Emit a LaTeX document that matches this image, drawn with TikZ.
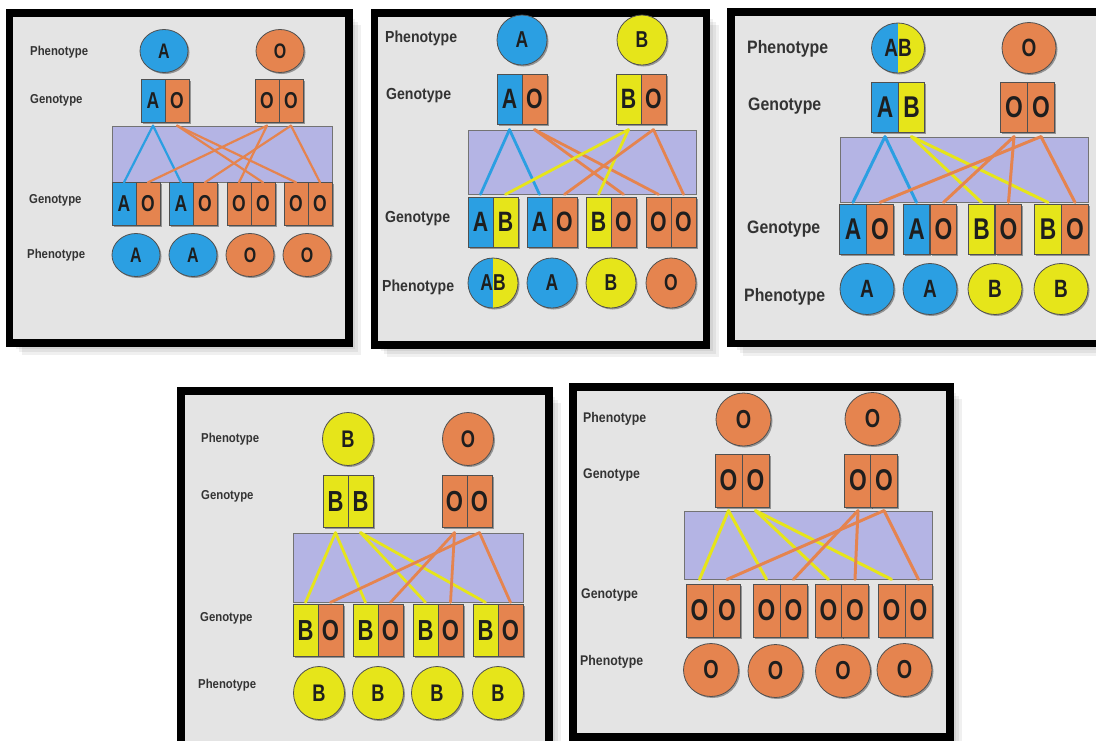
\documentclass[tikz,border=0pt]{standalone}
\usepackage{fontspec}
\newfontfamily\lf{Liberation Sans}[FakeStretch=0.88]
\newfontfamily\lt{Liberation Sans}[FakeStretch=0.76]
\usetikzlibrary{shapes.geometric,shadows}
\definecolor{cblue}{HTML}{2B9FE2}
\definecolor{corange}{HTML}{E5844F}
\definecolor{cyellow}{HTML}{E6E51A}
\definecolor{cband}{HTML}{B4B4E4}
\definecolor{cbg}{HTML}{E4E4E4}
\definecolor{gline}{HTML}{505050}
\definecolor{txt}{HTML}{1E1E1E}
\definecolor{ltxt}{HTML}{333333}
\tikzset{
 sh/.style={drop shadow={shadow xshift=1.5pt, shadow yshift=-1.5pt, opacity=0.35, fill=black}},
 al/.style={rectangle, draw=gline, line width=0.8pt, minimum width=\aw, minimum height=\ah, inner sep=0pt, text=txt, font=\lt\bfseries\fontsize{\afs}{\afs}\selectfont, sh},
 ph/.style={ellipse, draw=gline, line width=0.8pt, minimum width=\cw, minimum height=\ch, inner sep=0pt, text=txt, font=\lt\bfseries\fontsize{\cfs}{\cfs}\selectfont, sh},
 split/.style={path picture={\fill[cblue] (path picture bounding box.south west) rectangle (path picture bounding box.north); \fill[cyellow] (path picture bounding box.south) rectangle (path picture bounding box.north east);}},
 lbl/.style={anchor=west, inner sep=0pt, text=ltxt, font=\lf\bfseries\fontsize{\lfs}{\lfs}\selectfont},
 band/.style={rectangle, draw=gline!80, line width=0.8pt, fill=cband, inner sep=0pt},
 ln/.style={line width=\lw, line cap=round},
 frame/.style={draw=black, fill=cbg, line width=7.5pt},
}
\newcommand\panelframe[4]{%
 \foreach \s in {3,6,9,12}{\fill[black,opacity=0.06] ({#1+\s},{#2+\s}) rectangle ({#3+\s},{#4+\s});}
 \draw[frame] (#1,#2) rectangle (#3,#4);}
\begin{document}
\begin{tikzpicture}[x=1pt,y=-1pt]
\useasboundingbox (0,0) rectangle (1096,740);
\fill[white] (0,0) rectangle (1096,740);
\clip (0,0) rectangle (1096,740);
% ================= Panel A =================
\def\aw{24pt}\def\ah{43pt}\def\afs{23}\def\cw{48pt}\def\ch{43pt}\def\cfs{21}\def\lfs{12.9}\def\lw{2.2pt}
\panelframe{9.5}{13}{349}{343}
\node[lbl] (Alp1) at (30,52) {Phenotype};
\node[lbl] (Alg1) at (30,100) {Genotype};
\node[lbl] (Alg2) at (29,200) {Genotype};
\node[lbl] (Alp2) at (27,255) {Phenotype};
\node[ph, fill=cblue] (Atp1) at (164,51) {A};
\node[ph, fill=corange] (Atp2) at (280,51) {O};
\node[al, fill=cblue] (Ap11) at (153,100.5) {A};
\node[al, fill=corange] (Ap12) at (177,100.5) {O};
\node[al, fill=corange] (Ap21) at (267,100.5) {O};
\node[al, fill=corange] (Ap22) at (291,100.5) {O};
\node[band, minimum width=220pt, minimum height=56pt] (Aband) at (222,154) {};
\node[al, fill=cblue] (Ac11) at (124,204) {A};
\node[al, fill=corange] (Ac12) at (148,204) {O};
\node[al, fill=cblue] (Ac21) at (181,204) {A};
\node[al, fill=corange] (Ac22) at (205,204) {O};
\node[al, fill=corange] (Ac31) at (239,204) {O};
\node[al, fill=corange] (Ac32) at (263,204) {O};
\node[al, fill=corange] (Ac41) at (296,204) {O};
\node[al, fill=corange] (Ac42) at (320,204) {O};
\node[ph, fill=cblue] (Acp1) at (136,255) {A};
\node[ph, fill=cblue] (Acp2) at (193,255) {A};
\node[ph, fill=corange] (Acp3) at (250,255) {O};
\node[ph, fill=corange] (Acp4) at (307,255) {O};
\draw[ln, cblue] (Ap11 |- Aband.north) -- (Ac11 |- Aband.south);
\draw[ln, cblue] (Ap11 |- Aband.north) -- (Ac21 |- Aband.south);
\draw[ln, corange] (Ap12 |- Aband.north) -- (Ac32 |- Aband.south);
\draw[ln, corange] (Ap12 |- Aband.north) -- (Ac41 |- Aband.south);
\draw[ln, corange] (Ap21 |- Aband.north) -- (Ac12 |- Aband.south);
\draw[ln, corange] (Ap21 |- Aband.north) -- (Ac31 |- Aband.south);
\draw[ln, corange] (Ap22 |- Aband.north) -- (Ac22 |- Aband.south);
\draw[ln, corange] (Ap22 |- Aband.north) -- (Ac42 |- Aband.south);
% ================= Panel B =================
\def\aw{25pt}\def\ah{50pt}\def\afs{28}\def\cw{50pt}\def\ch{50pt}\def\cfs{23}\def\lfs{16}\def\lw{2.8pt}
\panelframe{374.5}{13}{706.5}{345}
\node[lbl] (Blp1) at (385,38) {Phenotype};
\node[lbl] (Blg1) at (386,96) {Genotype};
\node[lbl] (Blg2) at (385,219) {Genotype};
\node[lbl] (Blp2) at (382,287) {Phenotype};
\node[ph, fill=cblue] (Btp1) at (522,40) {A};
\node[ph, fill=cyellow] (Btp2) at (642,40) {B};
\node[al, fill=cblue] (Bp11) at (509.5,99) {A};
\node[al, fill=corange] (Bp12) at (534.5,99) {O};
\node[al, fill=cyellow] (Bp21) at (628.5,99) {B};
\node[al, fill=corange] (Bp22) at (653.5,99) {O};
\node[band, minimum width=228pt, minimum height=64pt] (Bband) at (582,162) {};
\node[al, fill=cblue] (Bc11) at (480.5,222) {A};
\node[al, fill=cyellow] (Bc12) at (505.5,222) {B};
\node[al, fill=cblue] (Bc21) at (539.5,222) {A};
\node[al, fill=corange] (Bc22) at (564.5,222) {O};
\node[al, fill=cyellow] (Bc31) at (598.5,222) {B};
\node[al, fill=corange] (Bc32) at (623.5,222) {O};
\node[al, fill=corange] (Bc41) at (658.5,222) {O};
\node[al, fill=corange] (Bc42) at (683.5,222) {O};
\node[ph, split] (Bcp1) at (493,283) {AB};
\node[ph, fill=cblue] (Bcp2) at (552,283) {A};
\node[ph, fill=cyellow] (Bcp3) at (611,283) {B};
\node[ph, fill=corange] (Bcp4) at (671,283) {O};
\draw[ln, cblue] (Bp11 |- Bband.north) -- (Bc11 |- Bband.south);
\draw[ln, cblue] (Bp11 |- Bband.north) -- (Bc21 |- Bband.south);
\draw[ln, corange] (Bp12 |- Bband.north) -- (Bc32 |- Bband.south);
\draw[ln, corange] (Bp12 |- Bband.north) -- (Bc41 |- Bband.south);
\draw[ln, cyellow] (Bp21 |- Bband.north) -- (Bc12 |- Bband.south);
\draw[ln, cyellow] (Bp21 |- Bband.north) -- (Bc31 |- Bband.south);
\draw[ln, corange] (Bp22 |- Bband.north) -- (Bc22 |- Bband.south);
\draw[ln, corange] (Bp22 |- Bband.north) -- (Bc42 |- Bband.south);
% ================= Panel C =================
\def\aw{26.5pt}\def\ah{50pt}\def\afs{30}\def\cw{54pt}\def\ch{51pt}\def\cfs{25}\def\lfs{18}\def\lw{3pt}
\panelframe{731}{12}{1110}{343.5}
\node[lbl] (Clp1) at (747,49) {Phenotype};
\node[lbl] (Clg1) at (748,106) {Genotype};
\node[lbl] (Clg2) at (747,229) {Genotype};
\node[lbl] (Clp2) at (744,297) {Phenotype};
\node[ph, split, minimum width=53pt, minimum height=50pt] (Ctp1) at (898,48) {AB};
\node[ph, fill=corange] (Ctp2) at (1029,48) {O};
\node[al, fill=cblue] (Cp11) at (885,107) {A};
\node[al, fill=cyellow] (Cp12) at (911.5,107) {B};
\node[al, fill=corange] (Cp21) at (1014,107) {O};
\node[al, fill=corange] (Cp22) at (1041,107) {O};
\node[band, minimum width=248pt, minimum height=65pt] (Cband) at (964,169.5) {};
\node[al, fill=cblue] (Cc11) at (853,229) {A};
\node[al, fill=corange] (Cc12) at (880,229) {O};
\node[al, fill=cblue] (Cc21) at (916.5,229) {A};
\node[al, fill=corange] (Cc22) at (943.5,229) {O};
\node[al, fill=cyellow] (Cc31) at (981.5,229) {B};
\node[al, fill=corange] (Cc32) at (1008.5,229) {O};
\node[al, fill=cyellow] (Cc41) at (1048,229) {B};
\node[al, fill=corange] (Cc42) at (1075,229) {O};
\node[ph, fill=cblue] (Ccp1) at (867,289) {A};
\node[ph, fill=cblue] (Ccp2) at (930,289) {A};
\node[ph, fill=cyellow] (Ccp3) at (995,289) {B};
\node[ph, fill=cyellow] (Ccp4) at (1061,289) {B};
\draw[ln, cblue] (Cp11 |- Cband.north) -- (Cc11 |- Cband.south);
\draw[ln, cblue] (Cp11 |- Cband.north) -- (Cc21 |- Cband.south);
\draw[ln, cyellow] (Cp12 |- Cband.north) -- (Cc31 |- Cband.south);
\draw[ln, cyellow] (Cp12 |- Cband.north) -- (Cc41 |- Cband.south);
\draw[ln, corange] (Cp21 |- Cband.north) -- (Cc22 |- Cband.south);
\draw[ln, corange] (Cp21 |- Cband.north) -- (Cc32 |- Cband.south);
\draw[ln, corange] (Cp22 |- Cband.north) -- (Cc12 |- Cband.south);
\draw[ln, corange] (Cp22 |- Cband.north) -- (Cc42 |- Cband.south);
% ================= Panel D =================
\def\aw{25pt}\def\ah{52pt}\def\afs{29}\def\cw{51pt}\def\ch{53pt}\def\cfs{24}\def\lfs{12.9}\def\lw{2.8pt}
\panelframe{181}{391}{549}{755}
\node[lbl] (Dlp1) at (201,439) {Phenotype};
\node[lbl] (Dlg1) at (201,496) {Genotype};
\node[lbl] (Dlg2) at (200,618) {Genotype};
\node[lbl] (Dlp2) at (198,685) {Phenotype};
\node[ph, fill=cyellow] (Dtp1) at (348,439) {B};
\node[ph, fill=corange] (Dtp2) at (468,439) {O};
\node[al, fill=cyellow] (Dp11) at (335.5,501.5) {B};
\node[al, fill=cyellow] (Dp12) at (360.5,501.5) {B};
\node[al, fill=corange] (Dp21) at (454.5,501.5) {O};
\node[al, fill=corange] (Dp22) at (479.5,501.5) {O};
\node[band, minimum width=230pt, minimum height=69pt] (Dband) at (408,567.5) {};
\node[al, fill=cyellow] (Dc11) at (305.5,630.5) {B};
\node[al, fill=corange] (Dc12) at (330.5,630.5) {O};
\node[al, fill=cyellow] (Dc21) at (365.5,630.5) {B};
\node[al, fill=corange] (Dc22) at (390.5,630.5) {O};
\node[al, fill=cyellow] (Dc31) at (425.5,630.5) {B};
\node[al, fill=corange] (Dc32) at (450.5,630.5) {O};
\node[al, fill=cyellow] (Dc41) at (485.5,630.5) {B};
\node[al, fill=corange] (Dc42) at (510.5,630.5) {O};
\node[ph, fill=cyellow] (Dcp1) at (319,693) {B};
\node[ph, fill=cyellow] (Dcp2) at (378,693) {B};
\node[ph, fill=cyellow] (Dcp3) at (437,693) {B};
\node[ph, fill=cyellow] (Dcp4) at (498,693) {B};
\draw[ln, cyellow] (Dp11 |- Dband.north) -- (Dc11 |- Dband.south);
\draw[ln, cyellow] (Dp11 |- Dband.north) -- (Dc21 |- Dband.south);
\draw[ln, cyellow] (Dp12 |- Dband.north) -- (Dc31 |- Dband.south);
\draw[ln, cyellow] (Dp12 |- Dband.north) -- (Dc41 |- Dband.south);
\draw[ln, corange] (Dp21 |- Dband.north) -- (Dc22 |- Dband.south);
\draw[ln, corange] (Dp21 |- Dband.north) -- (Dc32 |- Dband.south);
\draw[ln, corange] (Dp22 |- Dband.north) -- (Dc12 |- Dband.south);
\draw[ln, corange] (Dp22 |- Dband.north) -- (Dc42 |- Dband.south);
% ================= Panel E =================
\def\aw{27pt}\def\ah{53pt}\def\afs{30}\def\cw{55pt}\def\ch{53pt}\def\cfs{26}\def\lfs{14}\def\lw{3pt}
\panelframe{573}{387}{950}{737}
\node[lbl] (Elp1) at (583,419) {Phenotype};
\node[lbl] (Elg1) at (583,475) {Genotype};
\node[lbl] (Elg2) at (581,595) {Genotype};
\node[lbl] (Elp2) at (580,662) {Phenotype};
\node[ph, fill=corange] (Etp1) at (743.5,419.5) {O};
\node[ph, fill=corange] (Etp2) at (872.5,419) {O};
\node[al, fill=corange] (Ep11) at (728.5,480.5) {O};
\node[al, fill=corange] (Ep12) at (755.5,480.5) {O};
\node[al, fill=corange] (Ep21) at (858,480.5) {O};
\node[al, fill=corange] (Ep22) at (884,480.5) {O};
\node[band, minimum width=248pt, minimum height=68pt] (Eband) at (808,545) {};
\node[al, fill=corange] (Ec11) at (699.5,610.5) {O};
\node[al, fill=corange] (Ec12) at (727,610.5) {O};
\node[al, fill=corange] (Ec21) at (766.5,610.5) {O};
\node[al, fill=corange] (Ec22) at (793.5,610.5) {O};
\node[al, fill=corange] (Ec31) at (828.5,610.5) {O};
\node[al, fill=corange] (Ec32) at (855,610.5) {O};
\node[al, fill=corange] (Ec41) at (891.5,610.5) {O};
\node[al, fill=corange] (Ec42) at (918.5,610.5) {O};
\node[ph, fill=corange] (Ecp1) at (711,670) {O};
\node[ph, fill=corange] (Ecp2) at (775.5,671) {O};
\node[ph, fill=corange] (Ecp3) at (843,671) {O};
\node[ph, fill=corange] (Ecp4) at (904.5,670) {O};
\draw[ln, cyellow] (Ep11 |- Eband.north) -- (Ec11 |- Eband.south);
\draw[ln, cyellow] (Ep11 |- Eband.north) -- (Ec21 |- Eband.south);
\draw[ln, cyellow] (Ep12 |- Eband.north) -- (Ec31 |- Eband.south);
\draw[ln, cyellow] (Ep12 |- Eband.north) -- (Ec41 |- Eband.south);
\draw[ln, corange] (Ep21 |- Eband.north) -- (Ec22 |- Eband.south);
\draw[ln, corange] (Ep21 |- Eband.north) -- (Ec32 |- Eband.south);
\draw[ln, corange] (Ep22 |- Eband.north) -- (Ec12 |- Eband.south);
\draw[ln, corange] (Ep22 |- Eband.north) -- (Ec42 |- Eband.south);
\end{tikzpicture}
\end{document}
